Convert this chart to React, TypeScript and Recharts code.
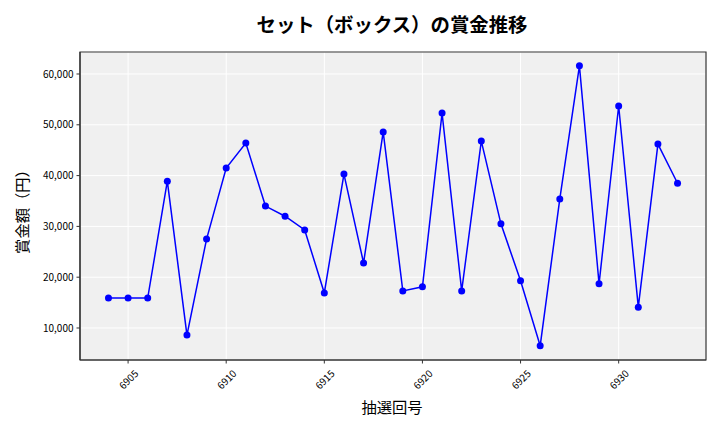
import React from "react";
import { LineChart, Line, XAxis, YAxis, CartesianGrid, ReferenceArea } from "recharts";

const draws = [
  6904, 6905, 6906, 6907, 6908, 6909, 6910, 6911, 6912, 6913,
  6914, 6915, 6916, 6917, 6918, 6919, 6920, 6921, 6922, 6923,
  6924, 6925, 6926, 6927, 6928, 6929, 6930, 6931, 6932, 6933,
];
const prizes = [
  15900, 15900, 15900, 38900, 8600, 27500, 41500, 46400, 34000, 32000,
  29300, 16900, 40300, 22800, 48600, 17300, 18100, 52300, 17300, 46800,
  30500, 19300, 6500, 35400, 61600, 18700, 53700, 14100, 46200, 38500,
];
const xTicks = [6905, 6910, 6915, 6920, 6925, 6930];
const yTicks = [10000, 20000, 30000, 40000, 50000, 60000];

const title = "セット（ボックス）の賞金推移";
const xLabel = "抽選回号";
const yLabel = "賞金額（円）";

const X_DOMAIN: [number, number] = [6902.55, 6934.45];
const Y_DOMAIN: [number, number] = [3700, 64330];

const data = draws.map((d, i) => ({ draw: d, prize: prizes[i] }));

const FONT = '"Noto Sans CJK JP", "Noto Sans", sans-serif';

const XTick = (props: any) => {
  const { x, y, payload } = props;
  return (
    <g transform={`translate(${x},${y + 13.5}) rotate(-45)`}>
      <text
        x={0}
        y={0}
        textAnchor="middle"
        dominantBaseline="central"
        fontSize={10}
        fill="#000"
        fontFamily={FONT}
      >
        {payload.value}
      </text>
    </g>
  );
};

export default function App() {
  return (
    <div
      style={{
        position: "absolute",
        left: 0,
        top: 0,
        width: 720,
        height: 432,
        background: "#fff",
        fontFamily: FONT,
      }}
    >
      <LineChart
        width={720}
        height={432}
        data={data}
        margin={{ top: 52, right: 14, bottom: 0, left: 0 }}
      >
        <CartesianGrid stroke="#ffffff" strokeWidth={1} fill="#f0f0f0" />
        <XAxis
          dataKey="draw"
          type="number"
          domain={X_DOMAIN}
          ticks={xTicks}
          height={72}
          tickSize={3.5}
          tickMargin={2}
          tick={<XTick />}
          axisLine={{ stroke: "#333", strokeWidth: 1.2 }}
          tickLine={{ stroke: "#333" }}
          allowDataOverflow
        />
        <YAxis
          type="number"
          domain={Y_DOMAIN}
          ticks={yTicks}
          width={80}
          tickSize={3.5}
          tickMargin={3}
          tickFormatter={(v: number) => v.toLocaleString("en-US")}
          tick={{ fontSize: 10, fill: "#000", fontFamily: FONT }}
          axisLine={{ stroke: "#333", strokeWidth: 1.2 }}
          tickLine={{ stroke: "#333" }}
          allowDataOverflow
        />
        <ReferenceArea
          x1={X_DOMAIN[0]}
          x2={X_DOMAIN[1]}
          y1={Y_DOMAIN[0]}
          y2={Y_DOMAIN[1]}
          fill="none"
          fillOpacity={0}
          stroke="#333"
          strokeWidth={1.2}
          ifOverflow="visible"
        />
        <Line
          dataKey="prize"
          stroke="#0000ff"
          strokeWidth={1.5}
          dot={{ r: 3.5, fill: "#0000ff", stroke: "#0000ff", strokeWidth: 0 }}
          activeDot={false}
          isAnimationActive={false}
        />
      </LineChart>
      <div
        style={{
          position: "absolute",
          left: 392,
          top: 24,
          transform: "translate(-50%, -50%)",
          fontSize: 19.4,
          fontWeight: "bold",
          whiteSpace: "nowrap",
          lineHeight: 1,
          color: "#000",
        }}
      >
        {title}
      </div>
      <div
        style={{
          position: "absolute",
          left: 392,
          top: 407,
          transform: "translate(-50%, -50%)",
          fontSize: 15.3,
          whiteSpace: "nowrap",
          lineHeight: 1,
          color: "#000",
        }}
      >
        {xLabel}
      </div>
      <div
        style={{
          position: "absolute",
          left: 22,
          top: 208,
          transform: "translate(-50%, -50%) rotate(-90deg)",
          fontSize: 15.3,
          whiteSpace: "nowrap",
          lineHeight: 1,
          color: "#000",
        }}
      >
        {yLabel}
      </div>
    </div>
  );
}
